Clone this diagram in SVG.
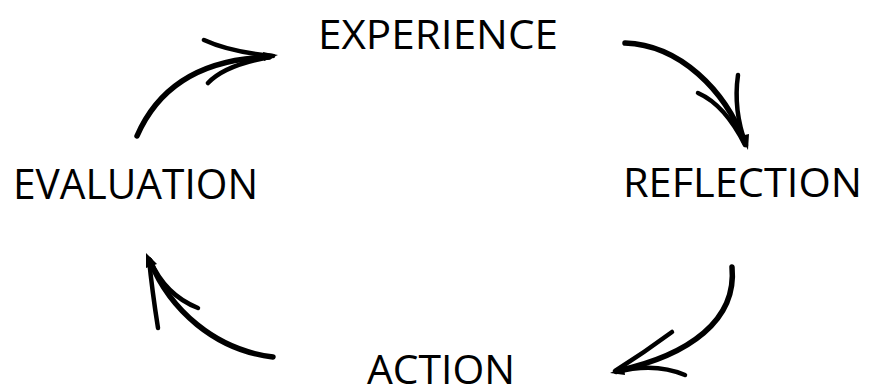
<svg xmlns="http://www.w3.org/2000/svg" width="869" height="392" viewBox="0 0 869 392">
<style>
.lbl{font-family:"Open Sans","Liberation Sans",sans-serif;font-size:41px;fill:#000;}
.main{fill:none;stroke:#000;stroke-width:5.5;stroke-linecap:round;}
.barb{fill:none;stroke:#000;stroke-width:4.5;stroke-linecap:round;}
.tip{fill:#000;stroke:none;}
</style>
<rect width="869" height="392" fill="#fff"/>
<g id="experience"><text class="lbl" x="318" y="49" textLength="240" lengthAdjust="spacingAndGlyphs">EXPERIENCE</text></g>
<g id="reflection"><text class="lbl" x="623" y="197" textLength="239" lengthAdjust="spacingAndGlyphs">REFLECTION</text></g>
<g id="action"><text class="lbl" x="367" y="384" textLength="148" lengthAdjust="spacingAndGlyphs">ACTION</text></g>
<g id="evaluation"><text class="lbl" x="13" y="199" textLength="245" lengthAdjust="spacingAndGlyphs" style="font-size:42px">EVALUATION</text></g>
<g id="connectors">
<g id="arrow-exp-ref">
<path class="main" d="M625,43 C680,45 725,90 745,143"/>
<path class="barb" d="M738,75 Q733,110 746,145"/>
<path class="barb" d="M698,93 Q725,105 745,145"/>
<polygon class="tip" points="748,150 740,136 749,134"/>
</g>
<g id="arrow-ref-act">
<path class="main" d="M732,267 C737,320 690,355 617,371"/>
<path class="barb" d="M672,332 Q645,352 615,371"/>
<path class="barb" d="M685,375 Q655,362 616,372"/>
<polygon class="tip" points="610,373 624,366 625,375"/>
</g>
<g id="arrow-act-eva">
<path class="main" d="M273,357 C215,350 170,310 150,261"/>
<path class="barb" d="M158,328 Q152,290 149,259"/>
<path class="barb" d="M198,308 Q165,295 150,260"/>
<polygon class="tip" points="146,253 146,268 157,264"/>
</g>
<g id="arrow-eva-exp">
<path class="main" d="M137,136 Q170,60 269,57"/>
<path class="barb" d="M204,40 Q230,52 273,56"/>
<path class="barb" d="M208,83 Q225,65 270,57"/>
<polygon class="tip" points="278,55 263,52 264,61"/>
</g>
</g>
</svg>
